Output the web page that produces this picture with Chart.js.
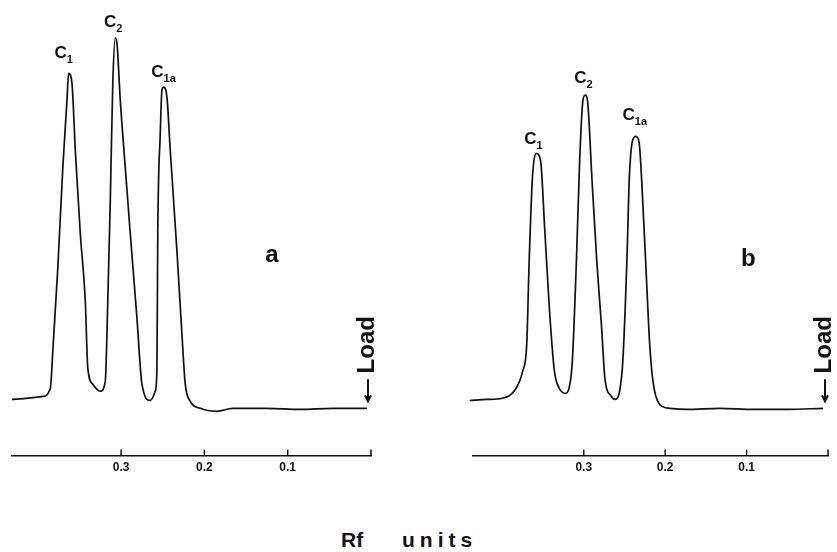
<!DOCTYPE html>
<html>
<head>
<meta charset="utf-8">
<script src="https://cdn.jsdelivr.net/npm/chart.js@4.4.1/dist/chart.umd.min.js"></script>
<style>
  html, body { margin: 0; padding: 0; background: #fff; }
  #wrap { position: relative; width: 837px; height: 552px; overflow: hidden; }
  .panel { position: absolute; top: 0; height: 490px; }
  #panelA { left: 0; width: 420px; }
  #panelB { left: 420px; width: 417px; }
  .xtitle {
    position: absolute; top: 528px; line-height: 23px;
    font: bold 21px "Liberation Sans", Arial, sans-serif;
    color: #111; white-space: pre;
  }
  #xt1 { left: 341px; letter-spacing: 0px; }
  #xt2 { left: 402px; letter-spacing: 5px; }
</style>
</head>
<body>
<div id="wrap">
  <div class="panel" id="panelA"><canvas id="chartA"></canvas></div>
  <div class="panel" id="panelB"><canvas id="chartB"></canvas></div>
  <span class="xtitle" id="xt1">Rf</span><span class="xtitle" id="xt2">units</span>
</div>
<script>
// Rf positions (left to right, decreasing Rf) and detector signal, panel a
const rfA = [0.431, 0.394, 0.385, 0.382, 0.376, 0.370, 0.365, 0.363, 0.359, 0.355, 0.349, 0.343, 0.340,
  0.334, 0.325, 0.319, 0.317, 0.313, 0.310, 0.307, 0.305, 0.301, 0.295, 0.289, 0.281, 0.275, 0.265,
  0.259, 0.257, 0.256, 0.253, 0.251, 0.249, 0.245, 0.241, 0.233, 0.227, 0.223, 0.217, 0.205, 0.185,
  0.166, 0.125, 0.085, 0.046, 0.005];
const signalA = [2.7, 3.5, 5.7, 15.7, 38.1, 65.1, 83.2, 90.5, 87.8, 69.7, 47.3, 29.2, 11.1,
  6.8, 4.9, 7.6, 20.3, 56.2, 87.8, 100, 98.6, 83.2, 65.1, 47.3, 24.6, 6.8, 2.4,
  4.9, 11.1, 47.3, 74.3, 85.9, 86.8, 84.1, 69.7, 42.7, 20.3, 6.8, 2.2, 0.3, -0.5,
  0.3, 0.3, 0, 0.3, 0.3];

// panel b
const rfB = [0.440, 0.419, 0.400, 0.383, 0.375, 0.370, 0.367, 0.363, 0.358, 0.353, 0.348, 0.342, 0.336,
  0.330, 0.322, 0.317, 0.314, 0.309, 0.305, 0.301, 0.298, 0.295, 0.290, 0.284, 0.278, 0.274, 0.266,
  0.261, 0.256, 0.252, 0.247, 0.244, 0.240, 0.236, 0.232, 0.229, 0.223, 0.219, 0.215, 0.207, 0.194,
  0.173, 0.133, 0.092, 0.050, 0.006];
const signalB = [2.4, 2.7, 3.0, 5.7, 10.3, 17.6, 40.0, 62.4, 68.9, 67.0, 48.9, 26.5, 10.3,
  5.7, 4.3, 6.8, 13.0, 40.0, 67.0, 83.2, 84.6, 82.4, 62.4, 40.0, 21.9, 8.4, 3.5,
  2.7, 4.9, 13.0, 40.0, 62.4, 72.4, 73.5, 71.9, 62.4, 35.4, 17.6, 7.6, 1.4, 0.3,
  0, 0.3, 0, 0, 0.3];

const tickValues = [0.3, 0.2, 0.1];
const peakSubs = ['1', '2', '1a'];
const peakRfA = [0.363, 0.307, 0.249];
const peakRfB = [0.358, 0.298, 0.236];

const FONT = '"Liberation Sans", Arial, sans-serif';
const INK = '#111';

const decor = {
  id: 'decor',
  afterDraw(chart, args, o) {
    const ctx = chart.ctx;
    const xs = chart.scales.x, ys = chart.scales.y;
    const bottom = chart.chartArea.bottom;
    const rf = chart.data.datasets[0].data.map(p => p.x);
    const sig = chart.data.datasets[0].data.map(p => p.y);
    ctx.save();
    ctx.strokeStyle = INK;
    ctx.fillStyle = INK;

    // small upward tick marks on the Rf axis
    ctx.lineWidth = 1.5;
    [0].concat(tickValues).forEach(v => {
      const px = xs.getPixelForValue(v);
      ctx.beginPath();
      ctx.moveTo(px, bottom);
      ctx.lineTo(px, bottom - 6);
      ctx.stroke();
    });

    // peak labels C1, C2, C1a
    o.peaks.forEach((prf, i) => {
      let j = 0;
      rf.forEach((r, k) => { if (Math.abs(r - prf) < Math.abs(rf[j] - prf)) j = k; });
      const cx = xs.getPixelForValue(rf[j]) + (o.peakDx[i] || 0);
      const by = ys.getPixelForValue(sig[j]) - o.peakGap[i];
      ctx.font = 'bold 17px ' + FONT;
      const wC = ctx.measureText('C').width;
      ctx.font = 'bold 11px ' + FONT;
      const wS = ctx.measureText(peakSubs[i]).width;
      const left = cx - (wC + wS) / 2;
      ctx.textAlign = 'left';
      ctx.textBaseline = 'alphabetic';
      ctx.font = 'bold 17px ' + FONT;
      ctx.fillText('C', left, by);
      ctx.font = 'bold 11px ' + FONT;
      ctx.fillText(peakSubs[i], left + wC, by + 5);
    });

    // panel letter
    ctx.font = 'bold 24px ' + FONT;
    ctx.textAlign = 'center';
    ctx.textBaseline = 'alphabetic';
    ctx.fillText(o.letter, xs.getPixelForValue(o.letterAt[0]), ys.getPixelForValue(o.letterAt[1]));

    // "Load" marker at the origin
    const lx = xs.getPixelForValue(0);
    ctx.save();
    ctx.translate(lx + 3, ys.getPixelForValue(9.7));
    ctx.rotate(-Math.PI / 2);
    ctx.font = 'bold 24px ' + FONT;
    ctx.textAlign = 'left';
    ctx.fillText('Load', 0, 0);
    ctx.restore();
    const ax = lx - 3;
    const ay0 = ys.getPixelForValue(8.1), ay1 = ys.getPixelForValue(2.2);
    ctx.lineWidth = 2;
    ctx.beginPath();
    ctx.moveTo(ax, ay0);
    ctx.lineTo(ax, ay1);
    ctx.stroke();
    ctx.beginPath();
    ctx.moveTo(ax - 3, ay1 - 6);
    ctx.lineTo(ax, ay1);
    ctx.lineTo(ax + 3, ay1 - 6);
    ctx.stroke();
    ctx.restore();
  }
};

function makePanel(id, rf, signal, rfMax, pad, deco) {
  new Chart(document.getElementById(id), {
    type: 'line',
    data: {
      datasets: [{
        data: rf.map((r, i) => ({ x: r, y: signal[i] })),
        borderColor: INK,
        borderWidth: 1.7,
        pointRadius: 0,
        fill: false,
        cubicInterpolationMode: 'monotone',
        clip: false
      }]
    },
    options: {
      responsive: true,
      maintainAspectRatio: false,
      animation: false,
      layout: { padding: pad },
      plugins: { legend: { display: false }, tooltip: { enabled: false }, decor: deco },
      scales: {
        x: {
          type: 'linear',
          reverse: true,
          min: 0,
          max: rfMax,
          grid: { display: false, drawTicks: false },
          border: { display: true, color: INK, width: 1.5 },
          afterBuildTicks: s => { s.ticks = [0].concat(tickValues).map(v => ({ value: v })); },
          ticks: {
            padding: 5,
            color: INK,
            font: { family: FONT, size: 12, weight: 'bold' },
            callback: v => v === 0 ? '' : v.toFixed(1)
          }
        },
        y: { display: false, min: -12.43, max: 100 }
      }
    },
    plugins: [decor]
  });
}

makePanel('chartA', rfA, signalA, 0.431, { left: 12, right: 49, top: 38, bottom: 10 },
  { peaks: peakRfA, peakGap: [15, 11, 10], peakDx: [-5, -2, 0], letter: 'a', letterAt: [0.119, 39.7] });
makePanel('chartB', rfB, signalB, 0.436, { left: 53, right: 9, top: 38, bottom: 10 },
  { peaks: peakRfB, peakGap: [10, 12, 16], peakDx: [-3, -2, -1], letter: 'b', letterAt: [0.098, 38.6] });
</script>
</body>
</html>
